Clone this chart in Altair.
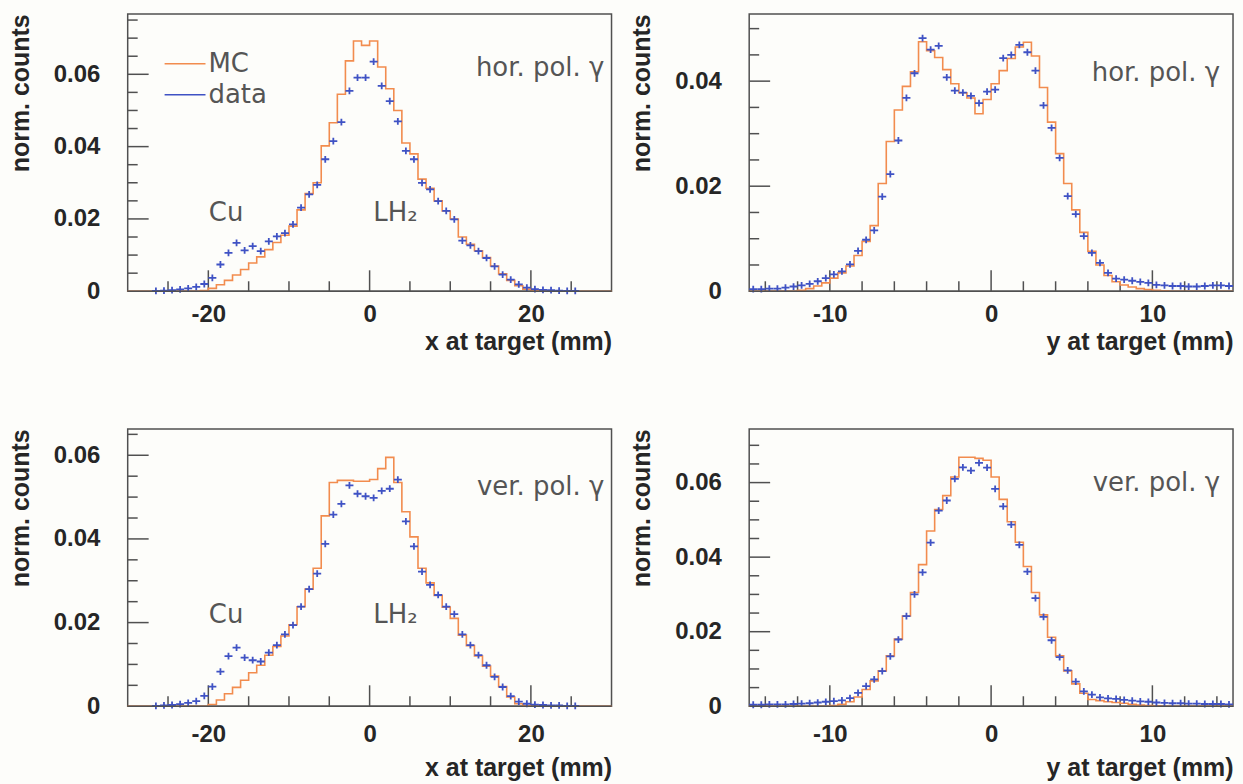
import altair as alt
import numpy as np
import pandas as pd

# ---------------------------------------------------------------------------
# Normalised counts per bin.
# x at target: 1 mm bins from -30 to 30 mm (60 bins)
# y at target: 0.5 mm bins from -15 to 15 mm (60 bins)
# ---------------------------------------------------------------------------

# horizontally polarised photons, x at target
mc_x_hor = [
    0, 0, 0, 0, 0, 0, 0, 0, 0, 0.0002,
    0.0008, 0.0018, 0.003, 0.0045, 0.006, 0.0078, 0.0095, 0.0115, 0.0135, 0.0155,
    0.018, 0.0225, 0.027, 0.030, 0.0402, 0.0466, 0.0545, 0.0637, 0.0692, 0.068,
    0.0692, 0.062, 0.056, 0.050, 0.041, 0.038, 0.031, 0.0285, 0.025, 0.0222,
    0.020, 0.015, 0.013, 0.0112, 0.0093, 0.007, 0.0048, 0.003, 0.0015, 0.0006,
    0.0002, 0, 0, 0, 0, 0, 0, 0, 0, 0,
]
data_x_hor = [
    0, 0, 0, 0.0001, 0.0002, 0.0003, 0.0005, 0.0008, 0.0012, 0.002,
    0.0037, 0.0074, 0.0106, 0.0134, 0.0113, 0.0125, 0.0111, 0.0138, 0.0152, 0.0161,
    0.0185, 0.0231, 0.0268, 0.0294, 0.0365, 0.0415, 0.0468, 0.0554, 0.0591, 0.0591,
    0.0635, 0.0568, 0.0526, 0.047, 0.0388, 0.0365, 0.030, 0.0282, 0.0249, 0.0222,
    0.0199, 0.0140, 0.0127, 0.0111, 0.0092, 0.0069, 0.0046, 0.0032, 0.0019, 0.001,
    0.0006, 0.0004, 0.0003, 0.0002, 0.0001, 0.0001, 0, 0, 0, 0,
]

# horizontally polarised photons, y at target
mc_y_hor = [
    0, 0, 0, 0, 0, 0, 0.0002, 0.0005, 0.001, 0.0016,
    0.0025, 0.0035, 0.0048, 0.0068, 0.0095, 0.0125, 0.0205, 0.0285, 0.0345, 0.039,
    0.0418, 0.0475, 0.0458, 0.0445, 0.0422, 0.0395, 0.0378, 0.0368, 0.0338, 0.0365,
    0.0395, 0.042, 0.0443, 0.0465, 0.0474, 0.0448, 0.0388, 0.0322, 0.0262, 0.0205,
    0.0155, 0.0112, 0.0076, 0.005, 0.003, 0.0018, 0.0012, 0.0008, 0.0005, 0.0003,
    0.0002, 0.0001, 0, 0, 0, 0, 0, 0, 0, 0,
]
data_y_hor = [
    0.0004, 0.0004, 0.0005, 0.0005, 0.0007, 0.0009, 0.0011, 0.0014, 0.0019, 0.0025,
    0.0032, 0.0038, 0.0051, 0.0077, 0.0098, 0.0116, 0.018, 0.0223, 0.0287, 0.0368,
    0.0415, 0.0482, 0.046, 0.0467, 0.0407, 0.0382, 0.0378, 0.0372, 0.0358, 0.038,
    0.0384, 0.0444, 0.045, 0.0469, 0.0455, 0.042, 0.0354, 0.0311, 0.0254, 0.0181,
    0.0147, 0.0105, 0.0073, 0.0054, 0.0035, 0.0024, 0.0022, 0.002, 0.0018, 0.0016,
    0.0012, 0.0011, 0.001, 0.001, 0.0009, 0.0009, 0.001, 0.0011, 0.0011, 0.001,
]

# vertically polarised photons, x at target
mc_x_ver = [
    0, 0, 0, 0, 0, 0, 0, 0, 0, 0,
    0.0004, 0.0015, 0.003, 0.0045, 0.0062, 0.008, 0.0098, 0.0122, 0.0143, 0.0168,
    0.0195, 0.0238, 0.028, 0.033, 0.0455, 0.0535, 0.054, 0.054, 0.0538, 0.0538,
    0.0542, 0.0568, 0.0595, 0.0535, 0.0465, 0.0405, 0.033, 0.0295, 0.0265, 0.0237,
    0.021, 0.017, 0.0145, 0.012, 0.0096, 0.0072, 0.0047, 0.0022, 0.0006, 0.0001,
    0, 0, 0, 0, 0, 0, 0, 0, 0, 0,
]
data_x_ver = [
    0, 0, 0, 0.0001, 0.0002, 0.0003, 0.0005, 0.0008, 0.0012, 0.0025,
    0.0047, 0.0083, 0.012, 0.014, 0.0116, 0.011, 0.0107, 0.0128, 0.0146, 0.0172,
    0.0194, 0.0238, 0.028, 0.0317, 0.0388, 0.0458, 0.0484, 0.0528, 0.0508, 0.0502,
    0.0498, 0.0515, 0.052, 0.0542, 0.0442, 0.0382, 0.0322, 0.029, 0.0266, 0.0238,
    0.022, 0.0172, 0.0146, 0.0122, 0.0098, 0.007, 0.0046, 0.0024, 0.0011, 0.0006,
    0.0004, 0.0003, 0.0002, 0.0002, 0.0001, 0.0001, 0, 0, 0, 0,
]

# vertically polarised photons, y at target
mc_y_ver = [
    0, 0, 0, 0, 0, 0, 0, 0, 0, 0,
    0.0002, 0.0005, 0.0012, 0.0025, 0.0045, 0.0068, 0.0095, 0.0135, 0.018, 0.0242,
    0.0305, 0.038, 0.047, 0.0528, 0.0565, 0.0615, 0.0668, 0.0668, 0.0665, 0.066,
    0.0615, 0.0555, 0.0495, 0.044, 0.0375, 0.0305, 0.0245, 0.0185, 0.0135, 0.0095,
    0.006, 0.0035, 0.0018, 0.0015, 0.0012, 0.001, 0.0008, 0.0005, 0.0003, 0.0002,
    0.0001, 0, 0, 0, 0, 0, 0, 0, 0, 0,
]
data_y_ver = [
    0.0004, 0.0004, 0.0005, 0.0005, 0.0005, 0.0006, 0.0007, 0.0008, 0.001, 0.0012,
    0.0014, 0.0016, 0.0022, 0.0036, 0.0054, 0.0072, 0.0094, 0.0134, 0.0179, 0.0242,
    0.030, 0.0359, 0.0439, 0.0525, 0.0552, 0.061, 0.0641, 0.0632, 0.0653, 0.064,
    0.0583, 0.0536, 0.0487, 0.0433, 0.0361, 0.029, 0.024, 0.0177, 0.0132, 0.0096,
    0.0066, 0.004, 0.0031, 0.0024, 0.0021, 0.002, 0.0017, 0.0015, 0.0013, 0.0012,
    0.001, 0.0009, 0.0008, 0.0008, 0.0007, 0.0007, 0.0006, 0.0006, 0.0006, 0.0005,
]

legend_labels = ["MC", "data"]

# ---------------------------------------------------------------------------
# styling
# ---------------------------------------------------------------------------
MC_COLOR = "#f28c4e"
DATA_COLOR = "#3f52c4"
FRAME_COLOR = "#505050"
TEXT_COLOR = "#262626"
NOTE_COLOR = "#555555"
NOTE_FONT = "DejaVu Sans"
AXIS_FONT = "Liberation Sans"
CROSS = "M-1,0L1,0M0,-0.85L0,0.85"

W, H = 485, 278
MAJOR_LEN, MINOR_LEN = 21, 10


def step_frame(values, lo, width):
    edges = lo + width * np.arange(len(values) + 1)
    return pd.DataFrame({"x": edges, "y": list(values) + [values[-1]]})


def point_frame(values, lo, width):
    centers = lo + width * (np.arange(len(values)) + 0.5)
    df = pd.DataFrame({"x": centers, "y": values})
    return df[df["y"] > 0]


def panel(p):
    xs = alt.Scale(domain=list(p["xdom"]), nice=False, zero=False)
    ys = alt.Scale(domain=[0, p["ymax"]], nice=False, zero=True)
    xax = alt.Axis(
        values=p["xlabels"], ticks=False, domain=False, grid=False,
        labelExpr="datum.value + ''", labelPadding=p["xlabpad"],
        title=p["xtitle"], titleAnchor="end", titlePadding=p["xtitlepad"],
    )
    yax = alt.Axis(
        values=[0, 0.02, 0.04, 0.06], ticks=False, domain=False, grid=False,
        labelExpr="datum.value == 0 ? '0' : format(datum.value, '.2f')",
        labelPadding=28, title="norm. counts", titleAnchor="end", titlePadding=20,
    )

    def X():
        return alt.X("x:Q", scale=xs, axis=xax)

    def Y():
        return alt.Y("y:Q", scale=ys, axis=yax)

    lo, width = p["lo"], p["width"]
    layers = []

    # ticks drawn inside the frame
    x_minor = [v for v in p["xticks"] if v not in p["xlabels"]]
    y_all = np.round(np.arange(0, p["ymax"], 0.005), 4)
    y_minor = [v for v in y_all if round(v / 0.02, 6) % 1 != 0]
    y_major = [v for v in y_all if round(v / 0.02, 6) % 1 == 0 and v > 0]
    for vals, ln in ((p["xlabels"], MAJOR_LEN), (x_minor, MINOR_LEN)):
        layers.append(
            alt.Chart(pd.DataFrame({"x": vals}))
            .mark_rule(color=FRAME_COLOR, strokeWidth=1.5)
            .encode(x=X(), y=alt.value(H), y2=alt.value(H - ln))
        )
    for vals, ln in ((y_major, MAJOR_LEN), (y_minor, MINOR_LEN)):
        layers.append(
            alt.Chart(pd.DataFrame({"y": vals}))
            .mark_rule(color=FRAME_COLOR, strokeWidth=1.5)
            .encode(y=Y(), x=alt.value(0), x2=alt.value(ln))
        )

    # simulated distribution as a histogram outline
    layers.append(
        alt.Chart(step_frame(p["mc"], lo, width))
        .mark_line(interpolate="step-after", color=MC_COLOR, strokeWidth=1.6)
        .encode(x=X(), y=Y())
    )
    # measured distribution as crosses
    layers.append(
        alt.Chart(point_frame(p["data"], lo, width))
        .mark_point(shape=CROSS, filled=False, color=DATA_COLOR,
                    strokeWidth=1.8, size=64, opacity=1)
        .encode(x=X(), y=Y())
    )
    # bottom edge redrawn above the zero-level outline
    layers.append(
        alt.Chart(pd.DataFrame({"x": [0]}))
        .mark_rule(color=FRAME_COLOR, strokeWidth=1.5)
        .encode(x=alt.value(0), x2=alt.value(W), y=alt.value(H))
    )
    # annotations
    notes = pd.DataFrame(p["notes"], columns=["x", "y", "label", "align"])
    for align in ("left", "center", "right"):
        sub = notes[notes["align"] == align]
        if len(sub):
            layers.append(
                alt.Chart(sub)
                .mark_text(font=NOTE_FONT, fontSize=26, color=NOTE_COLOR,
                           align=align, baseline="middle")
                .encode(x=X(), y=Y(), text="label:N")
            )
    if p.get("legend"):
        for i, (lab, col) in enumerate(zip(legend_labels, [MC_COLOR, DATA_COLOR])):
            ypix = 50 + 31 * i
            layers.append(
                alt.Chart(pd.DataFrame({"label": [lab]}))
                .mark_rule(color=col, strokeWidth=1.6)
                .encode(x=alt.value(37), x2=alt.value(78), y=alt.value(ypix))
            )
            layers.append(
                alt.Chart(pd.DataFrame({"label": [lab]}))
                .mark_text(font=NOTE_FONT, fontSize=26, color=NOTE_COLOR,
                           align="left", baseline="middle")
                .encode(x=alt.value(81), y=alt.value(ypix), text="label:N")
            )

    return alt.layer(*layers).properties(width=W, height=H)


X_TICKS_WIDE = list(range(-25, 30, 5))
X_TICKS_NARROW = list(range(-14, 16, 2))

panels = [
    dict(mc=mc_x_hor, data=data_x_hor, lo=-30.0, width=1.0, xdom=(-30, 30),
         ymax=0.0767, xlabels=[-20, 0, 20], xticks=X_TICKS_WIDE,
         xtitle="x at target (mm)", xlabpad=11, xtitlepad=3, legend=True,
         notes=[(29.1, 0.0618, "hor. pol. γ", "right"),
                (-17.8, 0.0216, "Cu", "center"),
                (3.2, 0.0216, "LH₂", "center")]),
    dict(mc=mc_y_hor, data=data_y_hor, lo=-15.0, width=0.5, xdom=(-15, 15),
         ymax=0.0528, xlabels=[-10, 0, 10], xticks=X_TICKS_NARROW,
         xtitle="y at target (mm)", xlabpad=11, xtitlepad=3,
         notes=[(14.2, 0.0416, "hor. pol. γ", "right")]),
    dict(mc=mc_x_ver, data=data_x_ver, lo=-30.0, width=1.0, xdom=(-30, 30),
         ymax=0.0663, xlabels=[-20, 0, 20], xticks=X_TICKS_WIDE,
         xtitle="x at target (mm)", xlabpad=16, xtitlepad=9,
         notes=[(29.1, 0.0523, "ver. pol. γ", "right"),
                (-17.8, 0.0217, "Cu", "center"),
                (3.2, 0.0217, "LH₂", "center")]),
    dict(mc=mc_y_ver, data=data_y_ver, lo=-15.0, width=0.5, xdom=(-15, 15),
         ymax=0.0744, xlabels=[-10, 0, 10], xticks=X_TICKS_NARROW,
         xtitle="y at target (mm)", xlabpad=16, xtitlepad=9,
         notes=[(14.2, 0.060, "ver. pol. γ", "right")]),
]

chart = (
    alt.concat(*[panel(p) for p in panels], columns=2, spacing=138, bounds="flush")
    .properties(background="#fdfdfa",
                padding={"left": 7, "top": 12, "right": 5, "bottom": 5})
    .configure_axis(
        labelFont=AXIS_FONT, labelFontWeight="bold", labelFontSize=24,
        labelColor=TEXT_COLOR, titleFont=AXIS_FONT, titleFontWeight="bold",
        titleFontSize=25, titleColor=TEXT_COLOR,
    )
    .configure_view(stroke=FRAME_COLOR, strokeWidth=1.5)
)

chart.save("out.html", embed_options={"renderer": "svg", "actions": False})
